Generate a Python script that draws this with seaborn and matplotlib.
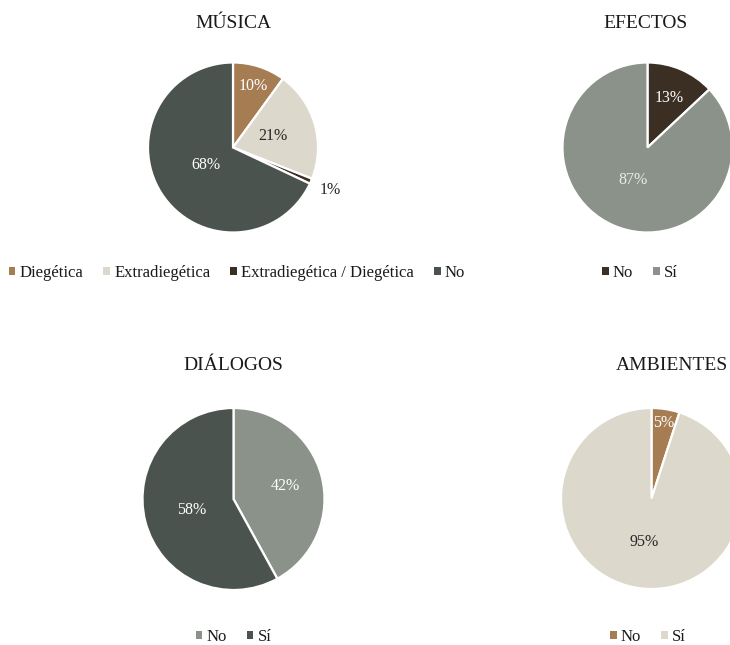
import matplotlib
matplotlib.use("Agg")
import matplotlib.pyplot as plt
from matplotlib.patches import Patch
import numpy as np
import seaborn as sns

sns.set_theme(style="white")
plt.rcParams["font.family"] = ["Liberation Serif", "DejaVu Serif"]

# ---- data -------------------------------------------------------------
musica_labels = ["Diegética", "Extradiegética", "Extradiegética / Diegética", "No"]
musica_values = [10, 21, 1, 68]

efectos_labels = ["No", "Sí"]
efectos_values = [13, 87]

dialogos_labels = ["No", "Sí"]
dialogos_values = [42, 58]

ambientes_labels = ["No", "Sí"]
ambientes_values = [5, 95]

# ---- palette ------------------------------------------------------------
BROWN = "#a67c52"
BEIGE = "#dcd8cb"
DARK_BROWN = "#3b2f24"
DARK_GREY = "#4a534d"
SAGE = "#8a9289"
INK = "#262626"

W, H = 730, 645
fig = plt.figure(figsize=(W / 100, H / 100), dpi=100)
fig.patch.set_facecolor("white")


def pie_panel(cx, cy, r, values, labels, colors, title, title_x, title_y,
              pct_dist, pct_colors, legend_x, legend_y):
    ax = fig.add_axes([(cx - r) / W, 1 - (cy + r) / H, 2 * r / W, 2 * r / H])
    ax.pie(values, colors=sns.color_palette(colors), startangle=90,
           counterclock=False, radius=1,
           wedgeprops=dict(edgecolor="white", linewidth=1.6))
    ax.set_xlim(-1, 1)
    ax.set_ylim(-1, 1)
    ax.set_aspect("equal")
    ax.axis("off")

    total = sum(values)
    starts = np.cumsum([0] + list(values))[:-1]
    for v, s, d, tc in zip(values, starts, pct_dist, pct_colors):
        theta = np.deg2rad((s + v / 2) / total * 360)
        ax.text(d * np.sin(theta), d * np.cos(theta), f"{v}%",
                ha="center", va="center", color=tc, fontsize=11.5,
                clip_on=False)

    fig.text(title_x / W, 1 - title_y / H, title, ha="center", va="center",
             fontsize=14, color="#1a1a1a")

    handles = [Patch(facecolor=c, edgecolor="none") for c in colors]
    fig.legend(handles, labels, loc="center",
               bbox_to_anchor=(legend_x / W, 1 - legend_y / H),
               ncol=len(labels), frameon=False, fontsize=12,
               handlelength=0.4, handleheight=0.4, handletextpad=0.25,
               columnspacing=1.2, labelcolor="#1a1a1a")


pie_panel(233, 147.5, 85, musica_values, musica_labels,
          [BROWN, BEIGE, DARK_BROWN, DARK_GREY], "MÚSICA", 233, 23,
          [0.76, 0.49, 1.25, 0.38], ["white", INK, INK, "white"], 237, 273)

pie_panel(647.5, 147.5, 85, efectos_values, efectos_labels,
          [DARK_BROWN, SAGE], "EFECTOS", 646, 23,
          [0.64, 0.42], ["white", "#ecebe4"], 640, 273)

pie_panel(233.5, 499, 91, dialogos_values, dialogos_labels,
          [SAGE, DARK_GREY], "DIÁLOGOS", 233, 366,
          [0.59, 0.48], ["white", "white"], 233.5, 637)

pie_panel(651.5, 498.5, 90.5, ambientes_values, ambientes_labels,
          [BROWN, BEIGE], "AMBIENTES", 672, 366,
          [0.84, 0.49], ["white", INK], 648, 637)

fig.savefig("out.png", dpi=100, facecolor="white")
